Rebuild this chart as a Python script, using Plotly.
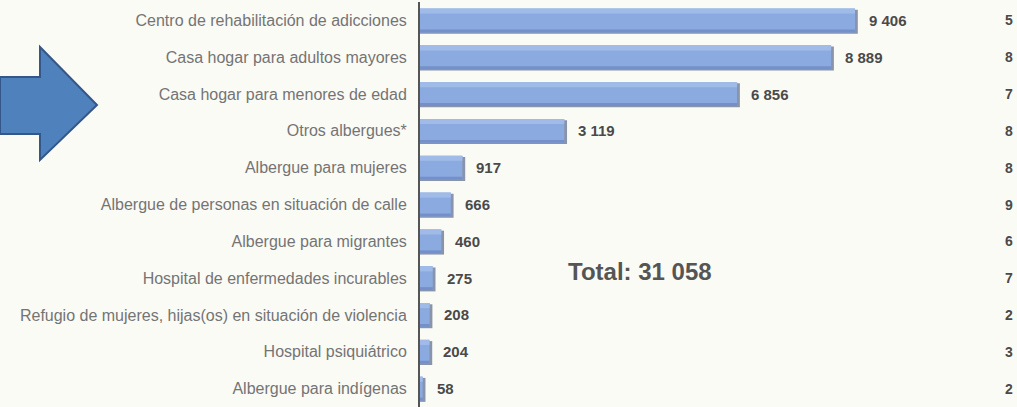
import plotly.graph_objects as go

categories = [
    "Centro de rehabilitación de adicciones",
    "Casa hogar para adultos mayores",
    "Casa hogar para menores de edad",
    "Otros albergues*",
    "Albergue para mujeres",
    "Albergue de personas en situación de calle",
    "Albergue para migrantes",
    "Hospital de enfermedades incurables",
    "Refugio de mujeres, hijas(os) en situación de violencia",
    "Hospital psiquiátrico",
    "Albergue para indígenas",
]
values = [9406, 8889, 6856, 3119, 917, 666, 460, 275, 208, 204, 58]
right_column = ["5", "8", "7", "8", "8", "9", "6", "7", "2", "3", "2"]

W, H = 1017, 407
L, R, T, B = 420, 42, 2, 0
PW, PH = W - L - R, H - T - B
XMAX = 12000

def fmt(v):
    return f"{v:,}".replace(",", " ")

def px(x):
    return (x - L) / PW

def py(y):
    return 1 - (y - T) / PH

FONT = "Liberation Sans, Arial, sans-serif"
fig = go.Figure()

shadow = [v + 60 for v in values]
fig.add_trace(go.Bar(y=categories, x=shadow, orientation="h", width=0.65, offset=-0.29,
                     marker=dict(color="#6d7a96", line=dict(width=0)), opacity=0.8,
                     hoverinfo="skip", showlegend=False))
fig.add_trace(go.Bar(y=categories, x=values, orientation="h", width=0.65, offset=-0.325,
                     marker=dict(color="#8aaae0", line=dict(width=0)), showlegend=False))
fig.add_trace(go.Bar(y=categories, x=values, orientation="h", width=0.14, offset=-0.325,
                     marker=dict(color="#a0bbe8", line=dict(width=0)), hoverinfo="skip", showlegend=False))
fig.add_trace(go.Bar(y=categories, x=values, orientation="h", width=0.08, offset=0.245,
                     marker=dict(color="#7590c8", line=dict(width=0)), hoverinfo="skip", showlegend=False))

annotations = []
for c, v in zip(categories, values):
    annotations.append(dict(x=v, y=c, xref="x", yref="y", text=fmt(v), showarrow=False,
                            xanchor="left", xshift=12,
                            font=dict(family=FONT, size=15, color="#4a4a4a", weight="bold")))
for c, d in zip(categories, right_column):
    annotations.append(dict(x=px(1003), y=c, xref="paper", yref="y", text=d, showarrow=False,
                            xanchor="left", font=dict(family=FONT, size=14, color="#4a4a4a", weight="bold")))
annotations.append(dict(x=px(640), y=py(271), xref="paper", yref="paper",
                        text=f"Total: {fmt(sum(values))}", showarrow=False,
                        xanchor="center", yanchor="middle",
                        font=dict(family=FONT, size=24, color="#555555", weight="bold")))

arrow_pts = [(0, 77), (40, 77), (40, 47), (97, 105), (40, 160), (40, 134), (0, 134)]
path = "M " + " L ".join(f"{px(x):.5f},{py(y):.5f}" for x, y in arrow_pts) + " Z"

fig.update_layout(
    width=W, height=H,
    margin=dict(l=L, r=R, t=T, b=B),
    paper_bgcolor="#fbfbf6", plot_bgcolor="#fbfbf6",
    barmode="overlay",
    annotations=annotations,
    shapes=[dict(type="path", path=path, xref="paper", yref="paper",
                 fillcolor="#4f81bd", line=dict(color="#34578a", width=2), layer="above")],
    xaxis=dict(range=[0, XMAX], visible=False, fixedrange=True),
    yaxis=dict(autorange="reversed", showline=True, linecolor="#555555", linewidth=2,
               ticks="", ticklabelstandoff=8, showgrid=False, zeroline=False, fixedrange=True,
               tickfont=dict(family=FONT, size=16, color="#747474")),
    font=dict(family=FONT),
)

fig.write_html("out.html", config={"displayModeBar": False},
               post_script="document.body.style.margin='0';document.body.style.overflow='hidden';")
